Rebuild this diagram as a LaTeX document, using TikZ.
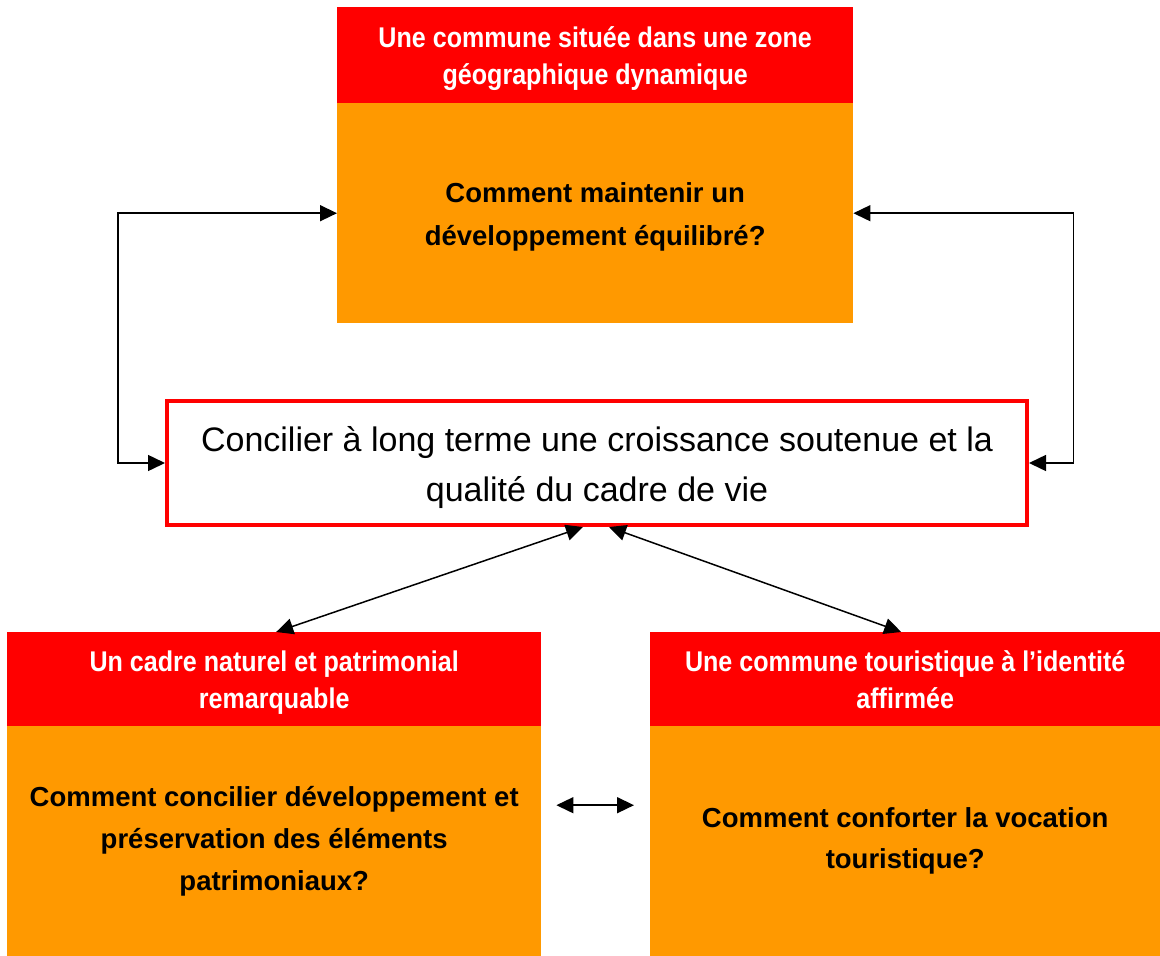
\documentclass[tikz,border=0pt]{standalone}
\usepackage{fontspec}
\setmainfont{Liberation Sans}
\newfontfamily\hdrfont[FakeStretch=0.88]{Liberation Sans}
\usetikzlibrary{arrows.meta,calc}
\definecolor{hred}{HTML}{FF0000}
\definecolor{borange}{HTML}{FF9900}
\newcommand{\topstrut}[1]{\rule{0pt}{#1}}
\newcommand{\botstrut}[1]{\rule[-#1]{0pt}{#1}}
\begin{document}
\begin{tikzpicture}[x=1pt,y=-1pt,
 hdr/.style={fill=hred, text=white, draw=none, inner sep=0pt, align=center,
   font=\hdrfont\bfseries\fontsize{28.5}{37}\selectfont, anchor=north west},
 body/.style={fill=borange, text=black, draw=none, inner sep=0pt, align=center,
   font=\bfseries\fontsize{27.5}{43}\selectfont, anchor=north west},
 link/.style={line width=1.5pt, {Triangle[length=17pt,width=16pt]}-{Triangle[length=17pt,width=16pt]}},
]
\useasboundingbox (0,0) rectangle (1160,956);
\fill[white] (0,0) rectangle (1160,956);

% top box
\node[hdr, minimum width=516, minimum height=96] (tophdr) at (337,7)
  {\topstrut{32pt}Une commune située dans une zone\\géographique dynamique\botstrut{10pt}};
\node[body, minimum width=516, minimum height=220] (topbody) at (337,103)
  {\topstrut{28pt}Comment maintenir un\\développement équilibré?};

% middle box
\node[draw=hred, line width=4pt, fill=white, minimum width=860, minimum height=124,
  anchor=north west, inner sep=0pt, align=center, font=\fontsize{34}{50}\selectfont] (mid) at (165,399)
  {\topstrut{35pt}Concilier à long terme une croissance soutenue et la\\qualité du cadre de vie};

% bottom left
\node[hdr, minimum width=534, minimum height=94] (blhdr) at (7,632)
  {\topstrut{32pt}Un cadre naturel et patrimonial\\remarquable\botstrut{10pt}};
\node[body, minimum width=534, minimum height=230, font=\bfseries\fontsize{27.5}{42}\selectfont] (blbody) at (7,726)
  {Comment concilier développement et\\préservation des éléments\\patrimoniaux?};

% bottom right
\node[hdr, minimum width=510, minimum height=94] (brhdr) at (650,632)
  {\topstrut{32pt}Une commune touristique à l’identité\\affirmée\botstrut{10pt}};
\node[body, minimum width=510, minimum height=230, font=\bfseries\fontsize{27.5}{41}\selectfont] (brbody) at (650,726)
  {Comment conforter la vocation\\touristique?};

% connectors
\draw[link] (topbody.west) -- ++(-219,0) |- (mid.west);
\draw[link] (topbody.east) -- ++(220,0) |- (mid.east);
\draw[link] ($(mid.south)+(-14,0)$) -- ([xshift=2pt]blhdr.north);
\draw[link] ($(mid.south)+(12,0)$) -- ([xshift=-4pt]brhdr.north);
\draw[link] ([xshift=15pt,yshift=36pt]blbody.east) -- ([xshift=-16pt,yshift=36pt]brbody.west);
\end{tikzpicture}
\end{document}
